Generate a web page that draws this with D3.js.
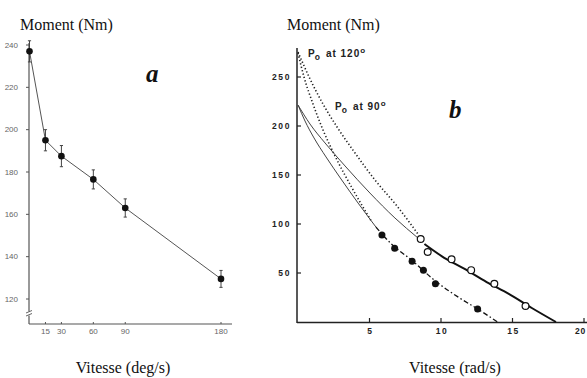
<!DOCTYPE html>
<html>
<head>
<meta charset="utf-8">
<script src="https://cdn.jsdelivr.net/npm/d3@7"></script>
<style>
  html, body { margin: 0; padding: 0; background: #fff; }
  svg { display: block; }
</style>
</head>
<body>
<svg id="chart" width="587" height="378"></svg>
<script>
// ---------- Panel a data ----------
const aSpeeds  = [0, 15, 30, 60, 90, 180];          // deg/s
const aMoments = [237, 195, 187.5, 176.5, 163, 129.5]; // Nm
const aErrors  = [5, 5, 5, 4.5, 4.3, 4];
const aXTicks  = [15, 30, 60, 90, 180];
const aYTicks  = [120, 140, 160, 180, 200, 220, 240];

// ---------- Panel b data ----------
const bXTicks = [5, 10, 15, 20];
const bYTicks = [50, 100, 150, 200, 250];
const filledV = [5.87, 6.76, 7.98, 8.77, 9.61, 12.56];
const filledM = [88.8, 75.2, 61.9, 52.8, 39.1, 13.3];
const openV   = [8.58, 9.07, 10.74, 12.11, 13.73, 15.91];
const openM   = [84.7, 71.4, 64.0, 52.9, 39.1, 16.3];
const thickV  = [8.84, 10.04, 11.65, 13.19, 14.74, 16.35, 18.04];
const thickM  = [79.6, 67.3, 54.1, 40.8, 28.6, 14.3, 0];
const dashV   = [5.45, 6.53, 7.93, 9.61, 11.30, 12.56, 13.96];
const dashM   = [96.9, 79.6, 63.3, 41.8, 24.5, 13.3, 0];
const lowThinV = [0, 0.49, 1.12, 1.96, 3.01, 4.20, 5.45];
const lowThinM = [221.4, 205.1, 187.8, 168.4, 145.9, 121.4, 96.9];
const upThinV  = [0, 0.84, 1.89, 3.29, 5.03, 6.78, 8.39];
const upThinM  = [221.4, 202.0, 182.7, 159.2, 131.6, 106.1, 85.7];
const inDotV   = [0, 0.42, 1.05, 1.75, 2.66, 3.78, 5.17];
const inDotM   = [274.5, 250.0, 222.4, 195.9, 167.3, 136.7, 102.0];
const outDotV  = [0, 0.84, 1.75, 2.73, 3.99, 5.38, 6.92, 8.39];
const outDotM  = [275.5, 248.0, 222.4, 199.0, 172.4, 144.9, 118.4, 89.8];

const svg = d3.select("#chart");
const zip = (xs, ys) => xs.map((x, i) => [x, ys[i]]);

// ================= Panel a =================
const ax = d3.scaleLinear().domain([0, 180]).range([29.5, 221]);
const ay = d3.scaleLinear().domain([120, 240]).range([299, 45]);
const aG = svg.append("g");
svg.append("defs").append("clipPath").attr("id", "clipA")
  .append("rect").attr("x", 0).attr("y", 43).attr("width", 280).attr("height", 300);

const aAxisCol = "#555";
aG.append("line").attr("x1", 29).attr("x2", 29).attr("y1", 43).attr("y2", 324)
  .attr("stroke", aAxisCol).attr("stroke-width", 1.2);
aG.append("line").attr("x1", 29).attr("x2", 232).attr("y1", 324).attr("y2", 324)
  .attr("stroke", aAxisCol).attr("stroke-width", 1.2);
aG.append("rect").attr("x", 27).attr("y", 311.5).attr("width", 4).attr("height", 4).attr("fill", "#fff");
[0, 3].forEach(d => {
  aG.append("line").attr("x1", 26).attr("x2", 32)
    .attr("y1", 313 + d).attr("y2", 310.5 + d)
    .attr("stroke", aAxisCol).attr("stroke-width", 0.9);
});

const aYAxis = aG.append("g").attr("clip-path", "url(#clipA)");
aYTicks.forEach(t => {
  aYAxis.append("line").attr("x1", 26).attr("x2", 29).attr("y1", ay(t)).attr("y2", ay(t))
    .attr("stroke", aAxisCol);
  aYAxis.append("text").attr("x", 18).attr("y", ay(t)).attr("dy", "0.35em")
    .attr("text-anchor", "end").attr("font-family", "Liberation Sans, Arial, sans-serif")
    .attr("font-size", 8).attr("fill", "#666").text(t);
});
aXTicks.forEach(t => {
  aG.append("line").attr("x1", ax(t)).attr("x2", ax(t)).attr("y1", 324).attr("y2", 322)
    .attr("stroke", aAxisCol);
  aG.append("text").attr("x", ax(t)).attr("y", 334).attr("text-anchor", "middle")
    .attr("font-family", "Liberation Sans, Arial, sans-serif")
    .attr("font-size", 8).attr("fill", "#666").text(t);
});

const aData = zip(aSpeeds, aMoments);
aG.append("path").datum(aData)
  .attr("d", d3.line().x(d => ax(d[0])).y(d => ay(d[1])))
  .attr("fill", "none").attr("stroke", "#555").attr("stroke-width", 1);
aSpeeds.forEach((s, i) => {
  const x = ax(s), y1 = ay(aMoments[i] + aErrors[i]), y2 = ay(aMoments[i] - aErrors[i]);
  aG.append("line").attr("x1", x).attr("x2", x).attr("y1", y1).attr("y2", y2)
    .attr("stroke", "#444").attr("stroke-width", 1);
  [y1, y2].forEach(y => aG.append("line").attr("x1", x - 1.6).attr("x2", x + 1.6)
    .attr("y1", y).attr("y2", y).attr("stroke", "#444").attr("stroke-width", 1));
  aG.append("circle").attr("cx", x).attr("cy", ay(aMoments[i])).attr("r", 3.3).attr("fill", "#111");
});

aG.append("text").attr("x", 20).attr("y", 30).attr("font-family", "Liberation Serif, Times New Roman, serif")
  .attr("font-size", 16).attr("fill", "#111").text("Moment (Nm)");
aG.append("text").attr("x", 123).attr("y", 373).attr("text-anchor", "middle")
  .attr("font-family", "Liberation Serif, Times New Roman, serif")
  .attr("font-size", 16).attr("fill", "#111").text("Vitesse (deg/s)");
aG.append("text").attr("x", 146).attr("y", 82)
  .attr("font-family", "Liberation Serif, Times New Roman, serif")
  .attr("font-size", 25).attr("font-style", "italic").attr("font-weight", "bold")
  .attr("fill", "#111").text("a");

// ================= Panel b =================
const bx = d3.scaleLinear().domain([0, 20]).range([298, 584]);
const by = d3.scaleLinear().domain([0, 250]).range([322, 77]);
const bG = svg.append("g");
const bAxisCol = "#222";
bG.append("line").attr("x1", 297).attr("x2", 297).attr("y1", 48).attr("y2", 323)
  .attr("stroke", bAxisCol).attr("stroke-width", 1.5);
bG.append("line").attr("x1", 297).attr("x2", 587).attr("y1", 322.5).attr("y2", 322.5)
  .attr("stroke", bAxisCol).attr("stroke-width", 1.5);
bYTicks.forEach(t => {
  bG.append("line").attr("x1", 297).attr("x2", 301).attr("y1", by(t)).attr("y2", by(t))
    .attr("stroke", bAxisCol).attr("stroke-width", 1.2);
  bG.append("text").attr("x", 291).attr("y", by(t)).attr("dy", "0.35em")
    .attr("text-anchor", "end").attr("font-family", "Liberation Sans, Arial, sans-serif")
    .attr("font-size", 8.5).attr("font-weight", "bold").attr("letter-spacing", 1.6)
    .attr("fill", "#222").text(t);
});
bXTicks.forEach((t, i) => {
  const last = i === bXTicks.length - 1;
  bG.append("line").attr("x1", bx(t)).attr("x2", bx(t)).attr("y1", 322).attr("y2", 318)
    .attr("stroke", bAxisCol).attr("stroke-width", 1.2);
  bG.append("text").attr("x", last ? 586 : bx(t) + 1).attr("y", 334)
    .attr("text-anchor", last ? "end" : "middle")
    .attr("font-family", "Liberation Sans, Arial, sans-serif")
    .attr("font-size", 8.5).attr("font-weight", "bold").attr("letter-spacing", last ? 0.8 : 1.6)
    .attr("fill", "#222").text(t);
});

const bLine = d3.line().x(d => bx(d[0])).y(d => by(d[1])).curve(d3.curveMonotoneX);
function curve(v, m, w, col, dash) {
  const p = bG.append("path").datum(zip(v, m)).attr("d", bLine)
    .attr("fill", "none").attr("stroke", col).attr("stroke-width", w);
  if (dash) p.attr("stroke-dasharray", dash);
  return p;
}
curve(outDotV, outDotM, 1.6, "#222", "1.3,2.2");
curve(inDotV, inDotM, 1.6, "#222", "1.3,2.2");
curve(upThinV, upThinM, 1, "#444");
curve(lowThinV, lowThinM, 1, "#444");
curve(thickV, thickM, 2, "#111");
curve(dashV, dashM, 1.3, "#111", "5,2.5,1.5,2.5");

filledV.forEach((v, i) => bG.append("circle").attr("cx", bx(v)).attr("cy", by(filledM[i]))
  .attr("r", 3.5).attr("fill", "#111"));
openV.forEach((v, i) => bG.append("circle").attr("cx", bx(v)).attr("cy", by(openM[i]))
  .attr("r", 3.4).attr("fill", "#fff").attr("stroke", "#111").attr("stroke-width", 1.2));

function poLabel(x, y, angle) {
  const t = bG.append("text").attr("x", x).attr("y", y)
    .attr("font-family", "Liberation Sans, Arial, sans-serif").attr("font-size", 10)
    .attr("font-weight", "bold").attr("fill", "#222");
  t.append("tspan").text("P");
  t.append("tspan").attr("dy", 3).attr("font-size", 8.5).text("o");
  t.append("tspan").attr("dy", -3).attr("dx", 6).attr("letter-spacing", 1).text("at " + angle);
  t.append("tspan").attr("dy", -4).attr("font-size", 8).text("o");
}
poLabel(308, 57, 120);
poLabel(335, 110, 90);

bG.append("text").attr("x", 287).attr("y", 30).attr("font-family", "Liberation Serif, Times New Roman, serif")
  .attr("font-size", 16).attr("fill", "#111").text("Moment (Nm)");
bG.append("text").attr("x", 455).attr("y", 373).attr("text-anchor", "middle")
  .attr("font-family", "Liberation Serif, Times New Roman, serif")
  .attr("font-size", 16).attr("fill", "#111").text("Vitesse (rad/s)");
bG.append("text").attr("x", 449).attr("y", 118)
  .attr("font-family", "Liberation Serif, Times New Roman, serif")
  .attr("font-size", 25).attr("font-style", "italic").attr("font-weight", "bold")
  .attr("fill", "#111").text("b");
</script>
</body>
</html>
